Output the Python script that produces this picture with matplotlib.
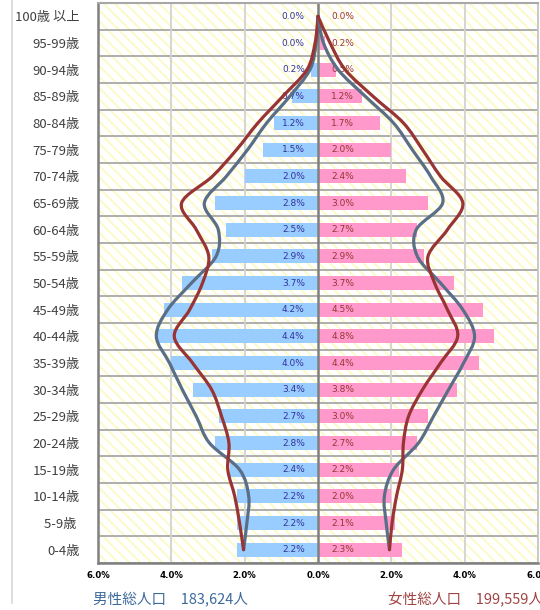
import matplotlib
matplotlib.use("Agg")
import matplotlib.pyplot as plt
from matplotlib.path import Path
from matplotlib.patches import PathPatch, Rectangle
from matplotlib.lines import Line2D
import numpy as np

plt.rcParams['font.family'] = ['Noto Sans CJK JP', 'DejaVu Sans']
plt.rcParams['hatch.linewidth'] = 1.4

ages = ['0-4歳', '5-9歳 ', '10-14歳', '15-19歳', '20-24歳', '25-29歳', '30-34歳',
        '35-39歳', '40-44歳', '45-49歳', '50-54歳', '55-59歳', '60-64歳', '65-69歳',
        '70-74歳', '75-79歳', '80-84歳', '85-89歳', '90-94歳', '95-99歳', '100歳 以上']
male = [2.2, 2.2, 2.2, 2.4, 2.8, 2.7, 3.4, 4.0, 4.4, 4.2, 3.7, 2.9, 2.5, 2.8,
        2.0, 1.5, 1.2, 0.7, 0.2, 0.0, 0.0]
female = [2.3, 2.1, 2.0, 2.2, 2.7, 3.0, 3.8, 4.4, 4.8, 4.5, 3.7, 2.9, 2.7, 3.0,
          2.4, 2.0, 1.7, 1.2, 0.5, 0.2, 0.0]
male_gray = [2.03, 1.94, 1.89, 2.14, 2.96, 3.32, 3.70, 4.05, 4.41, 4.10, 3.45, 2.78,
             2.72, 3.10, 2.50, 1.92, 1.40, 0.77, 0.22, 0.05, 0.0]
male_red = [2.03, 2.14, 2.27, 2.46, 2.43, 2.63, 2.90, 3.42, 3.92, 3.50, 3.15, 2.98,
            3.32, 3.72, 2.88, 2.22, 1.64, 0.96, 0.30, 0.08, 0.0]
female_gray = [1.95, 1.86, 1.81, 2.06, 2.74, 3.15, 3.56, 3.97, 4.27, 3.95, 3.34, 2.71,
               2.68, 3.40, 3.07, 2.57, 2.06, 1.29, 0.55, 0.15, 0.0]
female_red = [1.95, 2.02, 2.14, 2.30, 2.33, 2.47, 2.85, 3.34, 3.81, 3.53, 3.18, 3.00,
              3.53, 3.95, 3.34, 2.85, 2.33, 1.50, 0.74, 0.33, 0.0]
xticks = [-6, -4, -2, 0, 2, 4, 6]
xticklabels = ['6.0%', '4.0%', '2.0%', '0.0%', '2.0%', '4.0%', '6.0%']
male_total = '男性総人口　183,624人'
female_total = '女性総人口　199,559人'

fig = plt.figure(figsize=(5.4, 6.1), dpi=100)
ax = fig.add_axes([98/540, 1 - 563/610, 440/540, 560/610])
ax.set_xlim(-6, 6)
ax.set_ylim(-0.5, len(ages) - 0.5)
ax.set_facecolor('white')

# hatched background
ax.add_patch(Rectangle((0, 0), 1, 1, transform=ax.transAxes, facecolor='white',
                       edgecolor='#fcfac6', hatch='\\\\\\', linewidth=0, zorder=0))

y = np.arange(len(ages))
# grid
for b in np.arange(-0.5, len(ages) - 0.4, 1.0):
    ax.axhline(b, color='#a8a8a8', lw=1.3, zorder=1)
for xv in [-4, -2, 2, 4]:
    ax.axvline(xv, color='#d2d2d2', lw=1.3, zorder=1)

ax.barh(y, [-m for m in male], height=0.52, color='#99ccff', zorder=2)
ax.barh(y, female, height=0.52, color='#ff99cc', zorder=2)
ax.axvline(0, color='#808080', lw=1.8, zorder=3)

for i in range(len(ages)):
    ax.text(-0.36, y[i], f'{male[i]:.1f}%', ha='right', va='center', fontsize=6.5,
            color='#333399', family=['DejaVu Sans'], zorder=3)
    ax.text(0.36, y[i], f'{female[i]:.1f}%', ha='left', va='center', fontsize=6.5,
            color='#993333', family=['DejaVu Sans'], zorder=3)


def smooth_path(xs, ys):
    pts = np.column_stack([xs, ys]).astype(float)
    n = len(pts)
    verts = [pts[0]]
    codes = [Path.MOVETO]
    for i in range(n - 1):
        p0 = pts[i - 1] if i > 0 else pts[i]
        p1 = pts[i]
        p2 = pts[i + 1]
        p3 = pts[i + 2] if i + 2 < n else pts[i + 1]
        c1 = p1 + (p2 - p0) / 6.0
        c2 = p2 - (p3 - p1) / 6.0
        verts += [c1, c2, p2]
        codes += [Path.CURVE4] * 3
    return Path(verts, codes)


for xs, col in [([-v for v in male_gray], '#5a6e86'), ([-v for v in male_red], '#983434'),
                (female_gray, '#5a6e86'), (female_red, '#983434')]:
    ax.add_patch(PathPatch(smooth_path(xs, y), facecolor='none', edgecolor=col,
                           lw=2.3, zorder=4, capstyle='round', joinstyle='round'))

ax.set_yticks(y)
ax.set_yticklabels(ages, fontsize=9.5, color='#404040')
ax.set_xticks(xticks)
ax.set_xticklabels(xticklabels, fontsize=6.2, fontweight='bold', family=['DejaVu Sans'])
ax.tick_params(axis='y', length=0, pad=13)
ax.tick_params(axis='x', length=0, pad=6)

for side, col, lw in [('left', '#808080', 1.8), ('bottom', '#808080', 1.8),
                      ('top', '#a8a8a8', 1.5), ('right', '#c4c4c4', 1.3)]:
    ax.spines[side].set_color(col)
    ax.spines[side].set_linewidth(lw)
    ax.spines[side].set_zorder(5)

fig.add_artist(Line2D([12/540, 12/540], [1 - 603/610, 1.0], color='#d8d8d8', lw=1.2))

fig.text(93/540, 1 - 600/610, male_total, fontsize=10.5, color='#3d6a9c', va='center', ha='left')
fig.text(388/540, 1 - 600/610, female_total, fontsize=10.5, color='#a04444', va='center', ha='left')

fig.savefig('out.png', dpi=100)
